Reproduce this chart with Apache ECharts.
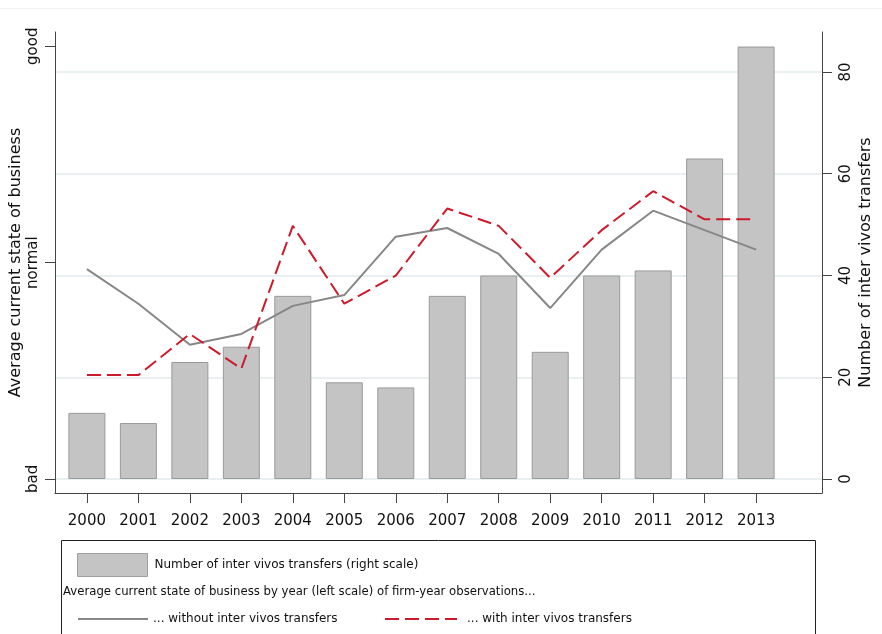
<!DOCTYPE html>
<html>
<head>
<meta charset="utf-8">
<script src="https://cdn.jsdelivr.net/npm/echarts@6/dist/echarts.min.js"></script>
<style>
    html, body { margin: 0; padding: 0; background: #fff; }
    #main { width: 882px; height: 634px; }
</style>
</head>
<body>
<div id="main"></div>
<script>
// data
const years = [2000, 2001, 2002, 2003, 2004, 2005, 2006, 2007, 2008, 2009, 2010, 2011, 2012, 2013];
const transfers = [13, 11, 23, 26, 36, 19, 18, 36, 40, 25, 40, 41, 63, 85];
// left scale: 1 = bad, 2 = normal, 3 = good
const stateWithout = [1.97, 1.81, 1.62, 1.67, 1.80, 1.85, 2.12, 2.16, 2.04, 1.79, 2.06, 2.24, 2.15, 2.06];
const stateWith = [1.48, 1.48, 1.67, 1.51, 2.17, 1.81, 1.94, 2.25, 2.17, 1.93, 2.15, 2.33, 2.20, 2.20];
const stateValues = [1, 2, 3];
const stateLabels = ['bad', 'normal', 'good'];
const countTicks = [0, 20, 40, 60, 80];

const barName = 'Number of inter vivos transfers (right scale)';
const withoutName = '... without inter vivos transfers';
const withName = '... with inter vivos transfers';

const font = 'DejaVu Sans';
const axisColor = '#444';

let myChart = echarts.init(document.getElementById('main'));
myChart.setOption({
    animation: false,
    textStyle: { fontFamily: font },
    grid: { left: 55, right: 58, top: 32, bottom: 141 },
    graphic: [
        {   // faint frame line at the top
            type: 'rect',
            shape: { x: -1, y: 8, width: 884, height: 1 },
            style: { fill: '#f1f1f1' }
        },
        {   // legend box
            type: 'rect',
            shape: { x: 61.5, y: 540.5, width: 754, height: 120 },
            style: { fill: 'none', stroke: '#222', lineWidth: 1 }
        },
        {
            type: 'text',
            left: 63,
            top: 586,
            style: {
                text: 'Average current state of business by year (left scale) of firm-year observations...',
                fill: '#111',
                font: '11.7px "DejaVu Sans"'
            }
        }
    ],
    legend: [
        {
            data: [{ name: barName, icon: 'rect' }],
            left: 72, top: 548,
            itemWidth: 70, itemHeight: 23,
            itemStyle: { borderColor: '#a0a0a0', borderWidth: 1 },
            textStyle: { fontSize: 12, color: '#111', padding: [0, 0, 0, 2] }
        },
        {
            data: [withoutName],
            left: 72, top: 608,
            itemWidth: 70, itemHeight: 14,
            itemStyle: { opacity: 0 },
            textStyle: { fontSize: 12, color: '#111' }
        },
        {
            data: [withName],
            left: 379, top: 608,
            itemWidth: 72, itemHeight: 14,
            itemStyle: { opacity: 0 },
            textStyle: { fontSize: 12, color: '#111', padding: [0, 0, 0, 5] }
        }
    ],
    xAxis: {
        type: 'value',
        min: 1999.38,
        max: 2014.28,
        axisLine: { show: true, onZero: false, lineStyle: { color: axisColor, width: 1 } },
        axisTick: { show: true, customValues: years, length: 10, lineStyle: { color: axisColor } },
        axisLabel: {
            customValues: years,
            formatter: v => String(v),
            fontSize: 15,
            color: '#111',
            margin: 21
        },
        splitLine: { show: false }
    },
    yAxis: [
        {
            type: 'value',
            position: 'left',
            min: 0.935,
            max: 3.066,
            name: 'Average current state of business',
            nameLocation: 'middle',
            nameRotate: 90,
            nameGap: 31,
            nameMoveOverlap: false,
            nameTextStyle: { fontSize: 16, color: '#111' },
            axisLine: { show: true, lineStyle: { color: axisColor, width: 1 } },
            axisTick: { show: true, customValues: stateValues, length: 10, lineStyle: { color: axisColor } },
            axisLabel: {
                customValues: stateValues,
                formatter: v => stateLabels[Math.round(v) - 1],
                rotate: 90,
                fontSize: 15,
                color: '#111',
                margin: 14
            },
            splitLine: { show: false }
        },
        {
            type: 'value',
            position: 'right',
            min: -2.75,
            max: 87.86,
            name: 'Number of inter vivos transfers',
            nameLocation: 'middle',
            nameRotate: 90,
            nameGap: 36,
            nameMoveOverlap: false,
            nameTextStyle: { fontSize: 16, color: '#111' },
            axisLine: { show: true, lineStyle: { color: axisColor, width: 1 } },
            axisTick: { show: true, customValues: countTicks, length: 10, lineStyle: { color: axisColor } },
            axisLabel: {
                customValues: countTicks,
                rotate: 90,
                fontSize: 15,
                color: '#111',
                margin: 17
            },
            splitLine: { show: true, lineStyle: { color: '#e8f0f2', width: 2 } }
        }
    ],
    series: [
        {
            name: barName,
            type: 'bar',
            yAxisIndex: 1,
            barWidth: 37,
            itemStyle: { color: '#c4c4c4', borderColor: '#9a9a9a', borderWidth: 1 },
            data: years.map((y, i) => [y, transfers[i]])
        },
        {
            name: withoutName,
            type: 'line',
            yAxisIndex: 0,
            symbol: 'none',
            itemStyle: { color: '#878787' },
            lineStyle: { color: '#878787', width: 2 },
            data: years.map((y, i) => [y, stateWithout[i]])
        },
        {
            name: withName,
            type: 'line',
            yAxisIndex: 0,
            symbol: 'none',
            itemStyle: { color: '#cc1a2c' },
            lineStyle: { color: '#cc1a2c', width: 2, type: [14, 6] },
            data: years.map((y, i) => [y, stateWith[i]])
        }
    ]
});
</script>
</body>
</html>
